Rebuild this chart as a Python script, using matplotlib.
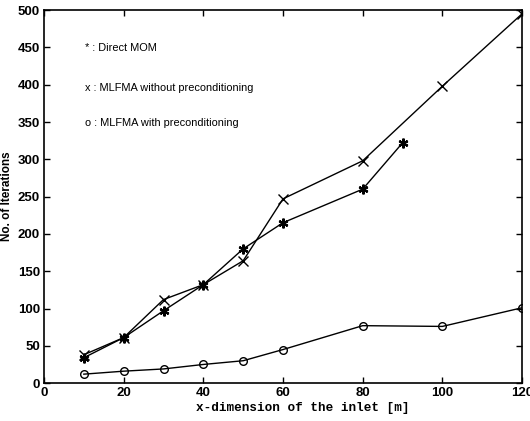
import matplotlib
matplotlib.use("Agg")
import matplotlib.pyplot as plt

x_mom = [10, 20, 30, 40, 50, 60, 80, 90]
y_mom = [34, 61, 97, 132, 180, 215, 260, 322]
x_nopre = [10, 20, 30, 40, 50, 60, 80, 100, 120]
y_nopre = [38, 61, 112, 132, 164, 247, 298, 398, 495]
x_pre = [10, 20, 30, 40, 50, 60, 80, 100, 120]
y_pre = [12, 16, 19, 25, 30, 45, 77, 76, 101]
xticks = [0, 20, 40, 60, 80, 100, 120]
yticks = [0, 50, 100, 150, 200, 250, 300, 350, 400, 450, 500]

plt.rcParams['font.family'] = ['Liberation Sans', 'DejaVu Sans']
fig = plt.figure(figsize=(5.3, 4.21), dpi=100)
ax = fig.add_axes([0.083, 0.090, 0.902, 0.886])

ax.plot(x_mom, y_mom, color='black', lw=1.0, marker=(6, 2, 0), ms=7, mew=1.6)
ax.plot(x_nopre, y_nopre, color='black', lw=1.0, marker='x', ms=7, mew=1.0)
ax.plot(x_pre, y_pre, color='black', lw=1.0, marker='o', ms=5.5, mfc='none', mew=1.0)

ax.set_xlim(0, 120)
ax.set_ylim(0, 500)
ax.set_xticks(xticks)
ax.set_yticks(yticks)
ax.tick_params(direction='in', length=4, labelsize=9.5, width=1, top=True, right=True, pad=3)
for lab in ax.get_xticklabels() + ax.get_yticklabels():
    lab.set_fontweight('bold')
for s in ax.spines.values():
    s.set_linewidth(1.2)

ax.set_xlabel('x-dimension of the inlet [m]', family=['Liberation Mono', 'DejaVu Sans Mono'],
              fontsize=9.1, fontweight='bold', labelpad=2)
ax.xaxis.set_label_coords(0.542, -0.05)
ax.set_ylabel('No. of Iterations', fontsize=8.5, fontweight='bold', labelpad=3)

ax.text(10.3, 449, '* : Direct MOM', fontsize=7.9, va='center')
ax.text(10.3, 396, 'x : MLFMA without preconditioning', fontsize=7.9, va='center')
ax.text(10.3, 348, 'o : MLFMA with preconditioning', fontsize=7.9, va='center')

fig.savefig('out.png', dpi=100)
